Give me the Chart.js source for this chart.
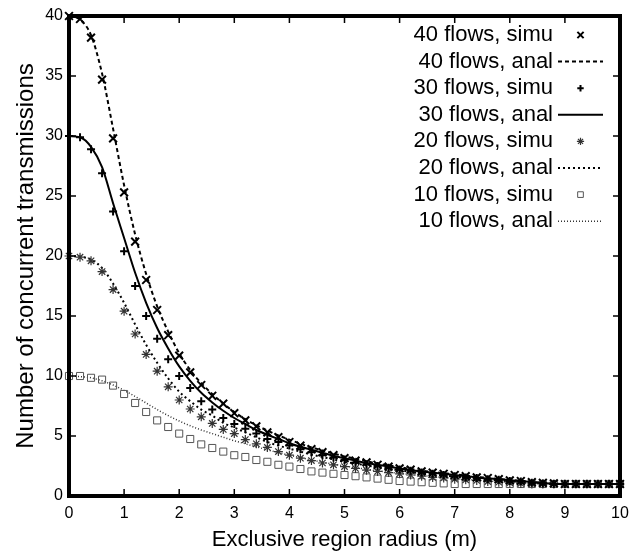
<!DOCTYPE html>
<html>
<head>
<meta charset="utf-8">
<script src="https://cdn.jsdelivr.net/npm/chart.js@4.4.1/dist/chart.umd.min.js"></script>
<style>
  body { margin: 0; background: #fff; }
  #wrap { width: 640px; height: 551px; }
</style>
</head>
<body>
<div id="wrap"><canvas id="chart" width="640" height="551"></canvas></div>
<script>
// exclusive region radius (m), one sample every 0.2 m
const radius = [0, 0.2, 0.4, 0.6, 0.8, 1, 1.2, 1.4, 1.6, 1.8, 2, 2.2, 2.4, 2.6, 2.8, 3, 3.2, 3.4, 3.6, 3.8,
    4, 4.2, 4.4, 4.6, 4.8, 5, 5.2, 5.4, 5.6, 5.8, 6, 6.2, 6.4, 6.6, 6.8, 7, 7.2, 7.4, 7.6, 7.8,
    8, 8.2, 8.4, 8.6, 8.8, 9, 9.2, 9.4, 9.6, 9.8, 10];

const simu40 = [40, 39.75, 38.2, 34.7, 29.8, 25.3, 21.2, 18.0, 15.5, 13.4, 11.7, 10.3, 9.25, 8.35, 7.7,
    6.9, 6.3, 5.8, 5.3, 4.9, 4.5, 4.2, 3.9, 3.65, 3.4, 3.15, 2.95, 2.8, 2.6, 2.45,
    2.3, 2.2, 2.05, 1.95, 1.85, 1.75, 1.65, 1.55, 1.5, 1.4, 1.3, 1.25, 1.15, 1.1, 1.05,
    1, 1, 1, 1, 1, 1];
const anal40 = [40, 39.7, 38.4, 35.2, 30.6, 25.9, 21.8, 18.5, 15.8, 13.7, 11.9, 10.5, 9.4, 8.5, 7.7,
    7.0, 6.4, 5.9, 5.45, 5.05, 4.7, 4.35, 4.05, 3.8, 3.55, 3.3, 3.1, 2.9, 2.7, 2.55,
    2.4, 2.25, 2.1, 2.0, 1.9, 1.8, 1.7, 1.6, 1.5, 1.42, 1.34, 1.26, 1.18, 1.1, 1.03,
    1, 1, 1, 1, 1, 1];
const simu30 = [30, 29.9, 28.9, 26.9, 23.7, 20.4, 17.5, 15.0, 13.1, 11.4, 10.0, 9.0, 7.9, 7.2, 6.5,
    6.0, 5.6, 5.2, 4.75, 4.5, 4.2, 3.9, 3.65, 3.4, 3.2, 3.0, 2.8, 2.65, 2.5, 2.35,
    2.2, 2.1, 1.95, 1.85, 1.75, 1.65, 1.55, 1.5, 1.4, 1.35, 1.25, 1.2, 1.1, 1.05, 1.0,
    1, 1, 1, 1, 1, 1];
const anal30 = [30, 29.9, 29.1, 27.4, 24.4, 21.5, 18.6, 16.1, 14.0, 12.3, 10.8, 9.6, 8.6, 7.8, 7.1,
    6.5, 6.0, 5.5, 5.1, 4.75, 4.4, 4.1, 3.85, 3.6, 3.35, 3.15, 2.95, 2.75, 2.6, 2.45,
    2.3, 2.15, 2.05, 1.95, 1.85, 1.75, 1.65, 1.55, 1.47, 1.4, 1.32, 1.24, 1.16, 1.08, 1.02,
    1, 1, 1, 1, 1, 1];
const simu20 = [20, 19.9, 19.6, 18.7, 17.2, 15.4, 13.5, 11.8, 10.4, 9.1, 8.0, 7.25, 6.6, 6.05, 5.55,
    5.2, 4.7, 4.35, 4.05, 3.7, 3.4, 3.15, 2.95, 2.75, 2.6, 2.45, 2.3, 2.15, 2.05, 1.95,
    1.85, 1.75, 1.65, 1.55, 1.5, 1.4, 1.35, 1.3, 1.2, 1.15, 1.1, 1.05, 1.0, 1, 1,
    1, 1, 1, 1, 1, 1];
const anal20 = [20, 19.95, 19.7, 19.0, 17.7, 16.1, 14.3, 12.6, 11.1, 9.8, 8.7, 7.9, 7.2, 6.7, 6.1,
    5.7, 5.3, 4.9, 4.5, 4.2, 3.95, 3.7, 3.45, 3.25, 3.05, 2.85, 2.7, 2.55, 2.4, 2.25,
    2.15, 2.0, 1.9, 1.8, 1.7, 1.62, 1.54, 1.46, 1.38, 1.3, 1.23, 1.16, 1.1, 1.04, 1.0,
    1, 1, 1, 1, 1, 1];
const simu10 = [10, 10, 9.85, 9.7, 9.2, 8.5, 7.75, 7.0, 6.3, 5.75, 5.2, 4.75, 4.3, 4.0, 3.7,
    3.4, 3.25, 3.0, 2.85, 2.6, 2.45, 2.25, 2.05, 1.95, 1.85, 1.75, 1.65, 1.55, 1.45, 1.35,
    1.25, 1.2, 1.15, 1.1, 1.05, 1.0, 1, 1, 1, 1, 1, 1, 1, 1, 1,
    1, 1, 1, 1, 1, 1];
const anal10 = [10, 9.95, 9.85, 9.6, 9.25, 8.8, 8.3, 7.75, 7.2, 6.7, 6.25, 5.85, 5.5, 5.2, 4.9,
    4.6, 4.35, 4.1, 3.85, 3.62, 3.4, 3.2, 3.0, 2.82, 2.65, 2.5, 2.36, 2.23, 2.1, 1.99,
    1.89, 1.79, 1.7, 1.62, 1.54, 1.46, 1.39, 1.32, 1.26, 1.2, 1.14, 1.09, 1.04, 1.01, 1,
    1, 1, 1, 1, 1, 1];

const xTicks = [0, 1, 2, 3, 4, 5, 6, 7, 8, 9, 10];
const yTicks = [0, 5, 10, 15, 20, 25, 30, 35, 40];

const FONT = "'Liberation Sans', Arial, Helvetica, sans-serif";

function pts(values) {
    return radius.map((r, i) => ({ x: r, y: values[i] }));
}

function simu(label, values, style, size, width, color) {
    return {
        label: label,
        data: pts(values),
        showLine: false,
        pointStyle: style,
        pointRadius: size,
        pointHoverRadius: size,
        pointBorderWidth: width,
        borderColor: color,
        backgroundColor: 'rgba(0,0,0,0)',
        clip: false
    };
}

function anal(label, values, dash, width, color) {
    return {
        label: label,
        data: pts(values),
        showLine: true,
        pointRadius: 0,
        borderColor: color,
        borderWidth: width,
        borderDash: dash,
        cubicInterpolationMode: 'monotone',
        fill: false,
        clip: false
    };
}

// frame with inward ticks on all four sides, like gnuplot
const framePlugin = {
    id: 'frame',
    afterDatasetsDraw(chart) {
        const { ctx, chartArea: a, scales: { x, y } } = chart;
        ctx.save();
        ctx.strokeStyle = '#000';
        ctx.lineWidth = 1.5;
        ctx.beginPath();
        xTicks.forEach(v => {
            const px = x.getPixelForValue(v);
            ctx.moveTo(px, a.bottom); ctx.lineTo(px, a.bottom - 7);
            ctx.moveTo(px, a.top); ctx.lineTo(px, a.top + 7);
        });
        yTicks.forEach(v => {
            const py = y.getPixelForValue(v);
            ctx.moveTo(a.left, py); ctx.lineTo(a.left + 7, py);
            ctx.moveTo(a.right, py); ctx.lineTo(a.right - 7, py);
        });
        ctx.stroke();
        ctx.lineWidth = 4;
        ctx.strokeRect(a.left, a.top, a.right - a.left, a.bottom - a.top);
        ctx.restore();
    }
};

// key in the top right corner: text right aligned, sample to its right
const keyPlugin = {
    id: 'key',
    afterDraw(chart) {
        const ctx = chart.ctx;
        const textRight = 553, sampleL = 558, sampleR = 603, top = 35, step = 26.6;
        ctx.save();
        ctx.font = '22px ' + FONT;
        ctx.textAlign = 'right';
        ctx.textBaseline = 'middle';
        chart.data.datasets.forEach((ds, i) => {
            const yy = top + i * step;
            ctx.fillStyle = '#000';
            ctx.fillText(ds.label, textRight, yy);
            ctx.strokeStyle = ds.borderColor;
            if (ds.showLine) {
                ctx.lineWidth = ds.borderWidth;
                ctx.setLineDash(ds.borderDash);
                ctx.beginPath();
                ctx.moveTo(sampleL, yy);
                ctx.lineTo(sampleR, yy);
                ctx.stroke();
                ctx.setLineDash([]);
            } else {
                ctx.lineWidth = ds.pointBorderWidth;
                ctx.fillStyle = 'rgba(0,0,0,0)';
                Chart.helpers.drawPoint(ctx, {
                    pointStyle: ds.pointStyle,
                    radius: ds.pointRadius * 0.8,
                    rotation: 0,
                    borderWidth: ds.pointBorderWidth
                }, (sampleL + sampleR) / 2, yy);
            }
        });
        ctx.restore();
    }
};

const ctx = document.getElementById('chart').getContext('2d');
const chart = new Chart(ctx, {
    type: 'scatter',
    data: {
        datasets: [
            simu('40 flows, simu', simu40, 'crossRot', 5.5, 2, '#000'),
            anal('40 flows, anal', anal40, [4, 3], 2, '#000'),
            simu('30 flows, simu', simu30, 'cross', 4, 2, '#000'),
            anal('30 flows, anal', anal30, [], 2, '#000'),
            simu('20 flows, simu', simu20, 'star', 4.5, 1.2, '#333'),
            anal('20 flows, anal', anal20, [2, 3], 2, '#000'),
            simu('10 flows, simu', simu10, 'rect', 5, 1, '#555'),
            anal('10 flows, anal', anal10, [1, 2], 1.5, '#333')
        ]
    },
    options: {
        responsive: false,
        animation: false,
        events: [],
        layout: { padding: { left: 0, right: 20, top: 16, bottom: 0 } },
        plugins: {
            legend: { display: false },
            tooltip: { enabled: false }
        },
        scales: {
            x: {
                type: 'linear',
                min: 0,
                max: 10,
                afterFit: s => { s.height = 55; },
                grid: { display: false, drawTicks: false },
                border: { display: false },
                ticks: {
                    stepSize: 1,
                    padding: 8,
                    color: '#000',
                    font: { family: FONT, size: 16 }
                },
                title: {
                    display: true,
                    text: 'Exclusive region radius (m)',
                    color: '#000',
                    font: { family: FONT, size: 22, lineHeight: 1 },
                    padding: { top: 0, bottom: 0 }
                }
            },
            y: {
                type: 'linear',
                min: 0,
                max: 40,
                afterFit: s => { s.width = 69; },
                grid: { display: false, drawTicks: false },
                border: { display: false },
                ticks: {
                    stepSize: 5,
                    padding: 6,
                    color: '#000',
                    font: { family: FONT, size: 16 }
                },
                title: {
                    display: true,
                    text: 'Number of concurrent transmissions',
                    color: '#000',
                    font: { family: FONT, size: 24, lineHeight: 1 },
                    padding: { top: 14, bottom: 0 }
                }
            }
        }
    },
    plugins: [framePlugin, keyPlugin]
});
</script>
</body>
</html>
